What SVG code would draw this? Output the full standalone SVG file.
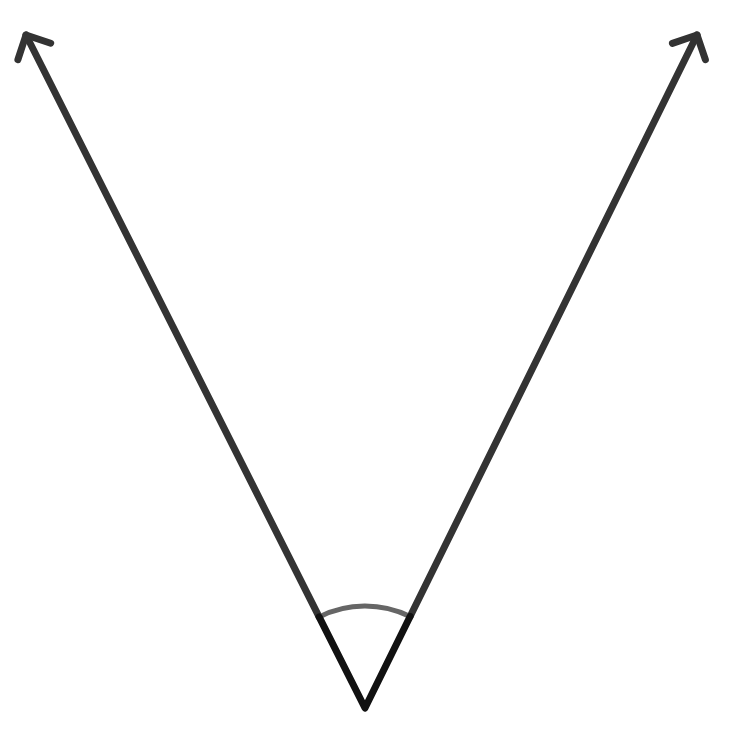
<svg xmlns="http://www.w3.org/2000/svg" width="729" height="744" viewBox="0 0 729 744">
<style>
.ray{fill:none;stroke:#333333;stroke-width:7;stroke-linecap:round;stroke-linejoin:round}
.inner{fill:none;stroke:#111111;stroke-width:7;stroke-linecap:round;stroke-linejoin:round}
.arc{fill:none;stroke:#666666;stroke-width:5;stroke-linecap:butt}
</style>
<rect width="729" height="744" fill="#ffffff"/>
<g id="connectors">
<line class="ray" x1="319.1" y1="616.9" x2="26" y2="35"/>
<polyline class="ray" points="17.9,59.7 26,35 50.7,43.2"/>
<line class="ray" x1="410.1" y1="616.5" x2="697" y2="35"/>
<polyline class="ray" points="672.4,43.4 697,35 705.4,59.6"/>
</g>
<g id="angle">
<path class="arc" d="M319.1,616.9 A102,102 0 0 1 410.1,616.5"/>
<polyline class="inner" points="319.1,616.9 365,708 410.1,616.5"/>
</g>
</svg>
